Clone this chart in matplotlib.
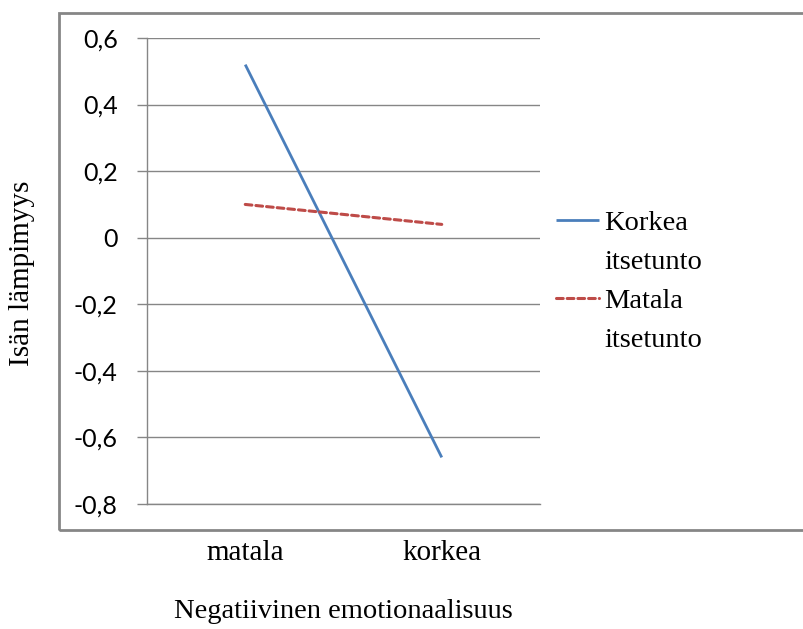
import matplotlib.pyplot as plt
from matplotlib.lines import Line2D
from matplotlib.patches import Rectangle

# Data
categories = ["matala", "korkea"]
korkea_itsetunto = [0.52, -0.66]
matala_itsetunto = [0.10, 0.04]
yticks = [0.6, 0.4, 0.2, 0.0, -0.2, -0.4, -0.6, -0.8]
ytick_labels = ["0,6", "0,4", "0,2", "0", "-0,2", "-0,4", "-0,6", "-0,8"]

grid_col = "#868686"
blue = "#4A7EBB"
red = "#BE4B48"
serif = "Liberation Serif"

fig = plt.figure(figsize=(8.04, 6.29), dpi=100)

# outer chart frame (clipped on the right like in the original)
W, H = 804, 629
frame = Rectangle((59 / W, 1 - 530 / H), 1.0, (530 - 13) / H,
                  transform=fig.transFigure, fill=False,
                  edgecolor=grid_col, linewidth=2.0, clip_on=False)
fig.patches.append(frame)

ax = fig.add_axes([147 / W, 1 - 504 / H, (540 - 147) / W, (504 - 38) / H])

x = range(len(categories))
ax.plot(x, korkea_itsetunto, color=blue, linewidth=2.0,
        solid_capstyle="butt", label="Korkea")
ax.plot(x, matala_itsetunto, color=red, linewidth=2.2,
        linestyle=(0, (2.2, 1.3)), dash_capstyle="round", label="Matala")

ax.set_xlim(-0.5, 1.5)
ax.set_ylim(-0.8, 0.6)
ax.set_yticks(yticks)
ax.set_yticklabels(ytick_labels, fontfamily="Lato", fontsize=18)
ax.set_xticks(list(x))
ax.set_xticklabels(categories, fontfamily=serif, fontsize=21)
ax.tick_params(axis="x", length=0, pad=26)
ax.tick_params(axis="y", length=7, color=grid_col, width=1.0, pad=14)

ax.grid(axis="y", color=grid_col, linewidth=1.0)
ax.set_axisbelow(True)
for s in ["top", "right"]:
    ax.spines[s].set_visible(False)
for s in ["left", "bottom"]:
    ax.spines[s].set_color(grid_col)
    ax.spines[s].set_linewidth(1.0)

ax.set_ylabel("Isän lämpimyys", fontfamily=serif, fontsize=21)
ax.set_xlabel("Negatiivinen emotionaalisuus", fontfamily=serif,
              fontsize=20.5, labelpad=24)
ax.yaxis.set_label_coords(-0.285, 0.495)

blank = Line2D([], [], linestyle="none")
handles = [ax.lines[0], blank, ax.lines[1], blank]
labels = ["Korkea", "itsetunto", "Matala", "itsetunto"]
ax.legend(handles, labels, loc="upper left",
          bbox_to_anchor=(556 / W, 1 - 210 / H),
          bbox_transform=fig.transFigure, frameon=False,
          prop={"family": serif, "size": 20.5},
          handlelength=1.5, handletextpad=0.2, labelspacing=0.46,
          borderaxespad=0, borderpad=0)

fig.savefig("out.png", dpi=100)
